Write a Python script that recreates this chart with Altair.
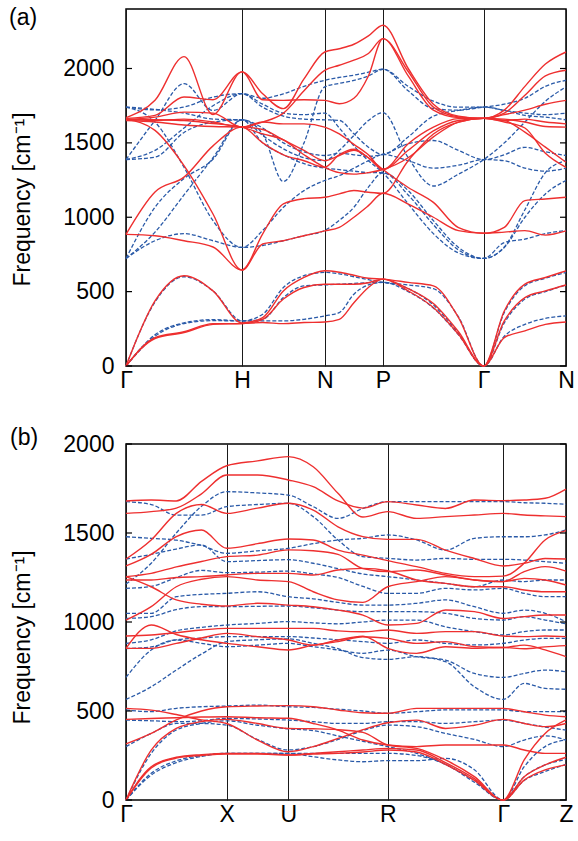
import altair as alt
import pandas as pd

FONT = "Liberation Sans, Arial, sans-serif"
RED = "#ee2f2f"
BLUE = "#2a5aa8"

# ---------------- panel (a) ----------------
A_SYM = [0, 116, 198.7, 257, 357.7, 440]
A_LABELS = ["Γ", "H", "N", "P", "Γ", "N"]
A_X = [0, 29, 58, 87, 116, 136.7, 157.4, 178, 198.7, 213.3, 227.9, 242.4,
       257, 282.2, 307.4, 332.5, 357.7, 378.3, 398.9, 419.4, 440]

A_RED = {
    "ra1": [0, 438, 607, 505, 290, 326, 505, 595, 640, 630, 610, 590, 584, 562, 539, 326, 0, 370, 550, 595, 640],
    "ra2": [0, 191, 230, 285, 285, 314, 450, 528, 550, 550, 550, 560, 584, 505, 393, 213, 0, 303, 460, 505, 545],
    "ra3": [0, 185, 225, 280, 285, 292, 285, 292, 296, 314, 425, 528, 584, 520, 420, 230, 0, 191, 236, 280, 296],
    "r1": [885, 876, 842, 800, 645, 820, 842, 876, 908, 932, 1000, 1078, 1161, 1089, 1000, 910, 892, 900, 910, 880, 908],
    "r2": [885, 1170, 1270, 1480, 1606, 1590, 1520, 1450, 1381, 1415, 1450, 1400, 1321, 1200, 1100, 930, 892, 932, 1112, 1123, 1134],
    "r3": [1660, 1584, 1347, 1022, 645, 889, 1090, 1125, 1134, 1157, 1180, 1168, 1161, 1380, 1560, 1640, 1665, 1651, 1572, 1471, 1370],
    "r4": [1655, 1673, 1707, 1700, 1606, 1640, 1628, 1628, 1606, 1560, 1490, 1420, 1321, 1494, 1606, 1663, 1665, 1660, 1640, 1610, 1606],
    "r5": [1665, 1685, 1808, 1790, 1977, 1790, 1786, 1790, 1786, 1763, 1800, 1950, 2201, 1980, 1740, 1675, 1665, 1690, 1720, 1760, 1786],
    "r6": [1670, 1786, 2080, 1690, 1977, 1830, 1730, 1930, 2111, 2133, 2163, 2219, 2291, 2000, 1760, 1680, 1665, 1720, 1880, 2030, 2111],
    "r7": [1660, 1650, 1660, 1640, 1606, 1640, 1700, 1850, 1988, 2022, 2056, 2101, 2201, 1950, 1720, 1670, 1665, 1700, 1820, 1950, 1988],
    "r8": [1650, 1640, 1620, 1610, 1606, 1500, 1420, 1380, 1336, 1420, 1457, 1400, 1321, 1450, 1580, 1650, 1665, 1640, 1600, 1430, 1336],
    "r9": [1660, 1655, 1650, 1630, 1606, 1560, 1520, 1420, 1336, 1300, 1290, 1300, 1321, 1400, 1540, 1640, 1665, 1650, 1660, 1640, 1628],
}

A_BLUE = {
    "ba1": [0, 430, 600, 505, 303, 348, 528, 607, 629, 620, 600, 580, 562, 545, 520, 330, 0, 360, 540, 590, 629],
    "ba2": [0, 210, 290, 312, 303, 314, 460, 539, 545, 550, 555, 560, 562, 500, 390, 210, 0, 290, 450, 500, 545],
    "ba3": [0, 200, 285, 305, 303, 303, 303, 314, 337, 359, 483, 545, 562, 520, 410, 220, 0, 200, 280, 320, 337],
    "b1": [1388, 1651, 1898, 1718, 1831, 1800, 1830, 1880, 1921, 1940, 1955, 1975, 1995, 1850, 1730, 1720, 1741, 1760, 1800, 1880, 1921],
    "b2": [723, 1067, 1260, 1390, 1655, 1560, 1240, 1500, 1876, 1900, 1920, 1950, 1995, 1880, 1780, 1740, 1741, 1718, 1700, 1690, 1700],
    "b3": [1741, 1722, 1741, 1808, 1831, 1760, 1700, 1690, 1700, 1600, 1480, 1380, 1299, 1090, 890, 760, 723, 800, 1050, 1300, 1381],
    "b4": [1388, 1450, 1600, 1750, 1831, 1740, 1680, 1660, 1655, 1651, 1561, 1471, 1422, 1540, 1680, 1718, 1741, 1718, 1685, 1673, 1655],
    "b5": [1388, 1404, 1570, 1640, 1655, 1600, 1500, 1440, 1415, 1430, 1420, 1410, 1422, 1494, 1516, 1449, 1388, 1420, 1470, 1440, 1415],
    "b6": [1741, 1725, 1700, 1660, 1655, 1550, 1460, 1400, 1381, 1450, 1550, 1650, 1703, 1400, 1210, 1290, 1388, 1500, 1640, 1780, 1876],
    "b7": [723, 900, 1150, 1400, 1655, 1500, 1420, 1360, 1330, 1320, 1310, 1300, 1299, 1179, 977, 797, 723, 797, 1000, 1157, 1247],
    "b8": [1741, 1640, 1336, 977, 797, 911, 1067, 1179, 1247, 1280, 1330, 1380, 1422, 1380, 1330, 1350, 1388, 1380, 1330, 1310, 1330],
    "b9": [723, 842, 890, 842, 797, 810, 842, 876, 911, 979, 1067, 1202, 1299, 1150, 950, 780, 723, 830, 853, 890, 911],
}

# ---------------- panel (b) ----------------
B_SYM = [0, 100.7, 162.3, 261.7, 377.3, 440]
B_LABELS = ["Γ", "X", "U", "R", "Γ", "Z"]
B_X = [0, 25.2, 50.3, 75.5, 100.7, 131.5, 162.3, 187.2, 212, 236.9,
       261.7, 290.6, 319.5, 348.4, 377.3, 398.2, 419.1, 440]

B_RED = {
    "r1": [1680, 1685, 1680, 1790, 1878, 1905, 1929, 1872, 1723, 1590, 1620, 1582, 1592, 1601, 1610, 1601, 1596, 1592],
    "r2": [1610, 1620, 1640, 1720, 1826, 1826, 1798, 1760, 1680, 1640, 1676, 1657, 1638, 1685, 1682, 1685, 1695, 1747],
    "r3": [1354, 1461, 1610, 1660, 1610, 1640, 1667, 1629, 1535, 1480, 1464, 1464, 1404, 1357, 1315, 1330, 1357, 1354],
    "r4": [1315, 1380, 1480, 1517, 1414, 1440, 1466, 1461, 1404, 1376, 1345, 1311, 1273, 1255, 1258, 1330, 1461, 1513],
    "r5": [1255, 1273, 1310, 1340, 1367, 1376, 1405, 1400, 1380, 1300, 1283, 1292, 1264, 1236, 1227, 1245, 1236, 1208],
    "r6": [1236, 1236, 1250, 1255, 1264, 1273, 1273, 1264, 1292, 1301, 1288, 1236, 1217, 1198, 1198, 1180, 1170, 1170],
    "r7": [1255, 1198, 1124, 1100, 1090, 1105, 1095, 1086, 1067, 1039, 983, 992, 1067, 1058, 1020, 1030, 1039, 1039],
    "r8": [1011, 1086, 1198, 1240, 1255, 1236, 1227, 1170, 1124, 1110, 1198, 1227, 1255, 1236, 1227, 1283, 1311, 1286],
    "r9": [921, 927, 940, 955, 964, 964, 964, 964, 950, 945, 955, 936, 946, 946, 921, 918, 921, 918],
    "r10": [852, 983, 930, 900, 880, 861, 843, 870, 890, 917, 908, 880, 890, 861, 857, 870, 843, 805],
    "r11": [852, 852, 880, 910, 936, 918, 899, 870, 899, 920, 852, 824, 861, 852, 857, 850, 860, 867],
    "r12": [515, 505, 480, 450, 430, 337, 271, 300, 346, 395, 434, 449, 402, 420, 453, 430, 412, 430],
    "r13": [453, 458, 462, 466, 468, 462, 459, 430, 393, 337, 309, 300, 309, 309, 309, 281, 262, 262],
    "r14": [315, 374, 450, 500, 524, 528, 530, 524, 506, 490, 487, 515, 515, 515, 515, 496, 477, 468],
    "ra1": [0, 280, 402, 440, 453, 430, 402, 400, 395, 380, 309, 290, 225, 131, 0, 225, 374, 450],
    "ra2": [0, 187, 240, 255, 262, 262, 253, 262, 271, 281, 290, 281, 210, 120, 0, 131, 197, 240],
    "ra3": [0, 180, 235, 250, 258, 258, 253, 258, 262, 270, 281, 270, 200, 110, 0, 112, 169, 197],
}

B_BLUE = {
    "b1": [1676, 1660, 1600, 1600, 1648, 1660, 1667, 1592, 1461, 1367, 1358, 1348, 1357, 1352, 1352, 1348, 1339, 1330],
    "b2": [1213, 1330, 1500, 1650, 1732, 1725, 1713, 1648, 1582, 1638, 1676, 1676, 1676, 1676, 1676, 1670, 1667, 1661],
    "b3": [1479, 1470, 1460, 1430, 1386, 1400, 1414, 1440, 1461, 1470, 1489, 1461, 1404, 1470, 1479, 1479, 1489, 1517],
    "b4": [1354, 1380, 1410, 1433, 1339, 1345, 1350, 1330, 1300, 1270, 1255, 1236, 1217, 1198, 1236, 1227, 1236, 1236],
    "b5": [1189, 1200, 1250, 1290, 1277, 1280, 1286, 1270, 1250, 1200, 1161, 1161, 1189, 1180, 1189, 1161, 1142, 1142],
    "b6": [1049, 1049, 1142, 1155, 1161, 1170, 1142, 1130, 1110, 1095, 1095, 1105, 1124, 1086, 1049, 1067, 1049, 1002],
    "b7": [1020, 1030, 1070, 1086, 1086, 1088, 1090, 1080, 1067, 1058, 1058, 1058, 1049, 1020, 1011, 1030, 1011, 990],
    "b8": [880, 900, 950, 970, 983, 992, 1002, 995, 990, 1000, 1011, 1011, 973, 946, 927, 946, 955, 955],
    "b9": [851, 860, 900, 910, 918, 918, 918, 910, 900, 890, 880, 899, 880, 871, 880, 899, 908, 908],
    "b10": [689, 843, 899, 880, 861, 870, 880, 861, 843, 824, 842, 805, 786, 711, 689, 711, 730, 721],
    "b11": [565, 636, 730, 820, 890, 900, 905, 880, 850, 800, 790, 805, 777, 636, 565, 655, 627, 622],
    "b12": [506, 496, 515, 524, 528, 533, 524, 520, 510, 500, 487, 496, 506, 506, 506, 496, 496, 496],
    "b13": [449, 445, 440, 445, 459, 455, 449, 440, 430, 430, 440, 440, 430, 440, 449, 430, 410, 393],
    "b14": [300, 374, 430, 430, 421, 340, 281, 300, 340, 390, 421, 412, 374, 340, 300, 337, 360, 337],
    "ba1": [0, 262, 393, 430, 445, 420, 400, 390, 360, 330, 300, 262, 200, 110, 0, 187, 300, 337],
    "ba2": [0, 150, 220, 250, 262, 262, 262, 243, 225, 215, 221, 221, 234, 170, 0, 131, 197, 228],
    "ba3": [0, 140, 210, 245, 262, 262, 262, 262, 262, 262, 262, 250, 200, 100, 0, 110, 160, 200],
}

Y_TICKS = [0, 500, 1000, 1500, 2000]
Y_TITLE = "Frequency [cm\u207b\u00b9]"


def band_frame(xs, bands):
    rows = []
    for name, vals in bands.items():
        for x, v in zip(xs, vals):
            rows.append({"x": x, "f": v, "band": name})
    return pd.DataFrame(rows)


def label_expr(pos, labels):
    expr = ""
    for i in range(len(pos) - 1):
        mid = (pos[i] + pos[i + 1]) / 2
        expr += f"datum.value < {mid} ? '{labels[i]}' : "
    return expr + f"'{labels[-1]}'"


def panel(xs, sym, labels, red, blue, ymax, height, title_y, tag, tag_x, tag_y):
    x_enc = alt.X(
        "x:Q",
        scale=alt.Scale(domain=[0, sym[-1]], nice=False, zero=False),
        axis=alt.Axis(values=sym, labelExpr=label_expr(sym, labels), grid=True,
                      gridColor="#1a1a1a", gridWidth=1, ticks=False, domain=False,
                      labelFontSize=23, labelFont=FONT, labelColor="black",
                      labelPadding=3, labelFlush=False, labelOverlap=False,
                      labelBound=False, title=None),
    )
    y_enc = alt.Y(
        "f:Q",
        scale=alt.Scale(domain=[0, ymax], nice=False, zero=True),
        axis=alt.Axis(values=Y_TICKS, format="d", grid=False, ticks=False, domain=False,
                      labelFontSize=23, labelFont=FONT, labelColor="black",
                      labelPadding=12, labelFlush=False, labelOverlap=False,
                      title=Y_TITLE, titleFont=FONT, titleFontSize=23,
                      titleFontWeight="normal", titleColor="black",
                      titleX=-115, titleY=title_y, titleAngle=-90,
                      titleBaseline="top", titleAlign="center"),
    )
    blue_layer = alt.Chart(band_frame(xs, blue)).mark_line(
        color=BLUE, strokeWidth=1.3, strokeDash=[4, 2], interpolate="monotone"
    ).encode(x=x_enc, y=y_enc, detail="band:N")
    red_layer = alt.Chart(band_frame(xs, red)).mark_line(
        color=RED, strokeWidth=1.4, interpolate="monotone"
    ).encode(x=x_enc, y=y_enc, detail="band:N")
    tick_df = pd.DataFrame({"f": Y_TICKS})
    left_ticks = alt.Chart(tick_df).mark_rule(color="black", strokeWidth=1.2).encode(
        x=alt.value(0), x2=alt.value(6), y=y_enc)
    right_ticks = alt.Chart(tick_df).mark_rule(color="black", strokeWidth=1.2).encode(
        x=alt.value(434), x2=alt.value(440), y=y_enc)
    tag_layer = alt.Chart(pd.DataFrame({"t": [tag]})).mark_text(
        align="left", baseline="top", fontSize=23, font=FONT, color="black"
    ).encode(x=alt.value(tag_x), y=alt.value(tag_y), text="t:N")
    return alt.layer(blue_layer, red_layer, left_ticks, right_ticks, tag_layer).properties(
        width=440, height=height)


pa = panel(A_X, A_SYM, A_LABELS, A_RED, A_BLUE, 2400, 357, 190, "(a)", -117, -2)
pb = panel(B_X, B_SYM, B_LABELS, B_RED, B_BLUE, 2000, 356, 193, "(b)", -116, -17)

chart = alt.vconcat(pa, pb, spacing=33).properties(
    padding={"left": 8, "top": 6, "right": 2, "bottom": 2},
    background="white",
).configure_view(stroke="black", strokeWidth=1.5)

chart.save("out.html", embed_options={"renderer": "svg", "actions": False})
